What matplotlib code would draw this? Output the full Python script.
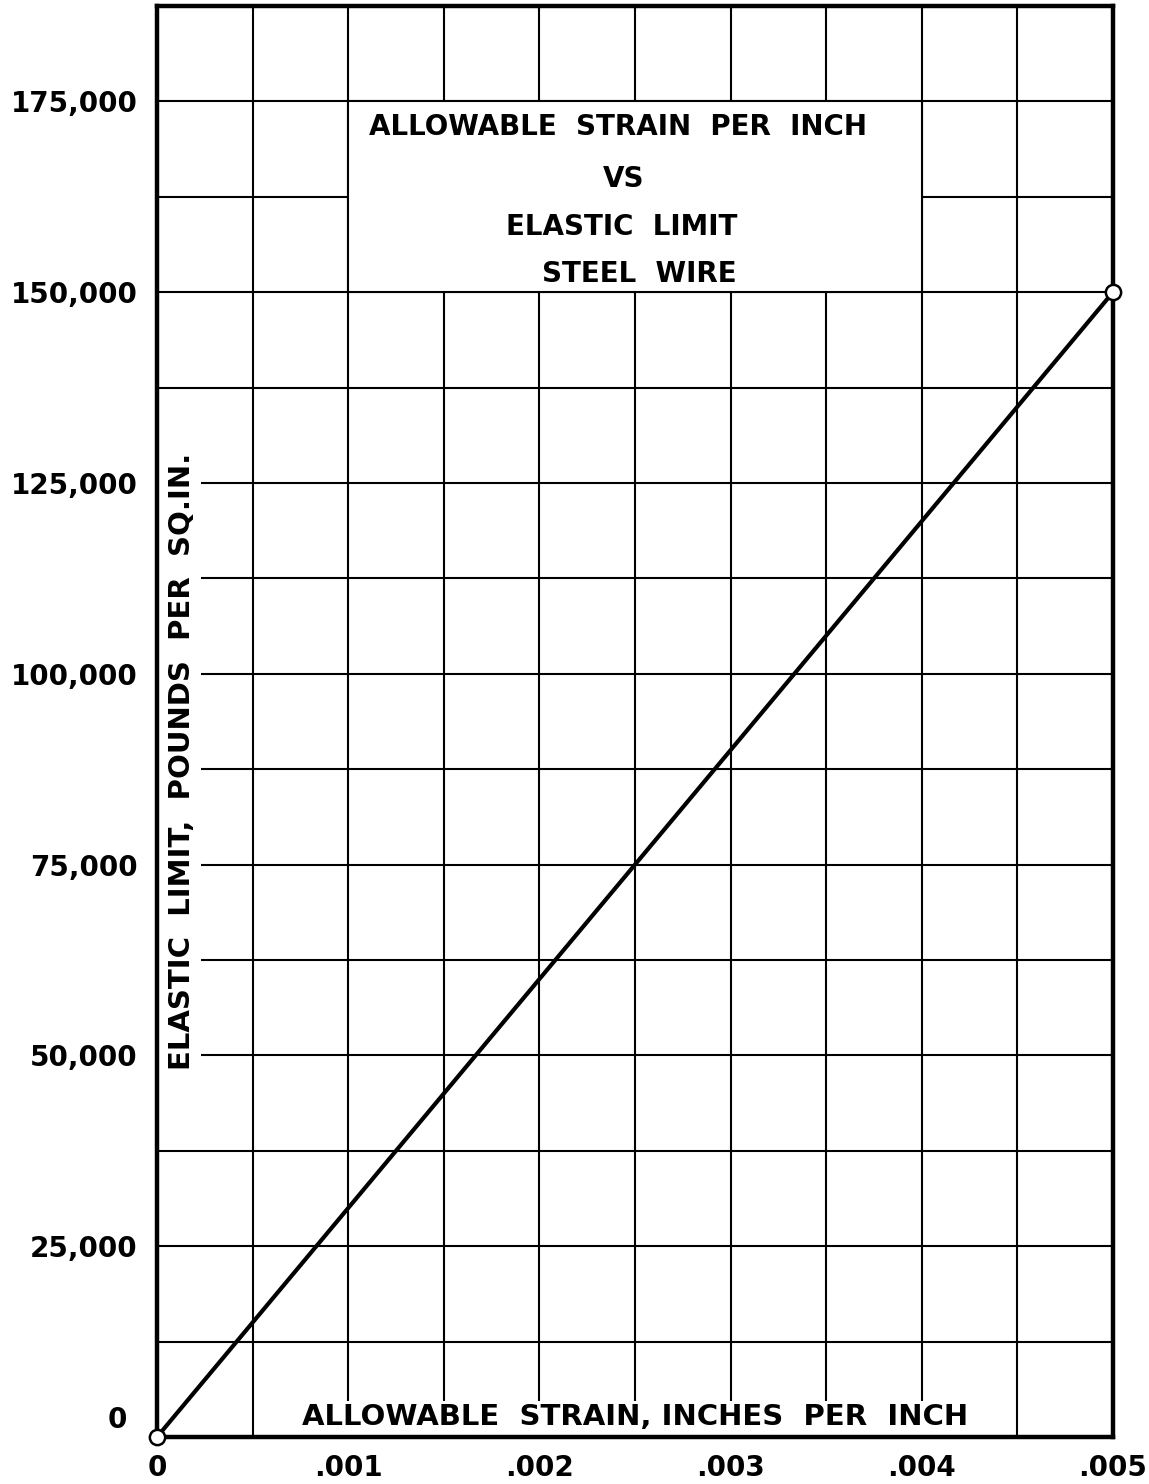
import matplotlib.pyplot as plt
from matplotlib.patches import Rectangle
from matplotlib.transforms import blended_transform_factory, ScaledTranslation

plt.rcParams['font.family'] = ['DejaVu Sans']
plt.rcParams['font.weight'] = 'bold'

# strain (in/in) vs elastic limit (psi) for steel wire
strain = [0.0, 0.005]
elastic_limit = [0, 150000]

x_grid = [0, 0.0005, 0.001, 0.0015, 0.002, 0.0025, 0.003, 0.0035, 0.004, 0.0045, 0.005]
x_labels = ['0', '', '.001', '', '.002', '', '.003', '', '.004', '', '.005']
y_grid = [0, 12500, 25000, 37500, 50000, 62500, 75000, 87500, 100000,
          112500, 125000, 137500, 150000, 162500, 175000]
y_labels = ['0', '', '25,000', '', '50,000', '', '75,000', '', '100,000',
            '', '125,000', '', '150,000', '', '175,000']

title_lines = ['ALLOWABLE  STRAIN  PER  INCH', 'VS', 'ELASTIC  LIMIT', 'STEEL  WIRE']

W, H = 1149, 1484
fig = plt.figure(figsize=(W / 100, H / 100), dpi=100)
ax = fig.add_axes([157 / W, 1 - 1437 / H, (1113 - 157) / W, (1437 - 6) / H])

ax.set_xlim(0, 0.005)
ax.set_ylim(0, 187500)

ax.set_xticks(x_grid)
ax.set_xticklabels(x_labels, fontsize=20)
ax.set_yticks(y_grid)
# the zero on the y scale sits a little higher, drawn separately below
ax.set_yticklabels([''] + y_labels[1:], fontsize=20)
ax.tick_params(length=0)
ax.tick_params(axis='x', pad=12)
ax.tick_params(axis='y', pad=14)

ax.set_axisbelow(True)
ax.grid(True, color='black', linewidth=1.5)
for s in ax.spines.values():
    s.set_linewidth(3.2)
    s.set_zorder(2.6)

blend = blended_transform_factory(ax.transAxes, ax.transData)
ax.text(-30 / 956, y_grid[0], y_labels[0], ha='right', va='center', fontsize=20,
        transform=blend + ScaledTranslation(0, 0.17, fig.dpi_scale_trans))

# white panels that blank the grid behind the lettering
ax.add_patch(Rectangle((0.001, 150000), 0.003, 25000, facecolor='white',
                       edgecolor='black', linewidth=1.5, zorder=1))
ax.add_patch(Rectangle((0.00051, 0), 0.00398, 4700, facecolor='white',
                       edgecolor='none', zorder=1))
ax.add_patch(Rectangle((0.00001, 46000), 0.00022, 87000, facecolor='white',
                       edgecolor='none', zorder=1))

ax.plot(strain, elastic_limit, color='black', linewidth=3.0, marker='o',
        markersize=11, markerfacecolor='white', markeredgecolor='black',
        markeredgewidth=1.8, clip_on=False, zorder=3)

# title block
title_x = [0.00241, 0.00244, 0.00243, 0.00252]
title_y = [171600, 164800, 158500, 152400]
for txt, tx, ty in zip(title_lines, title_x, title_y):
    ax.text(tx, ty, txt, ha='center', va='center', fontsize=20)

ax.text(0.0025, 2600, 'ALLOWABLE  STRAIN, INCHES  PER  INCH', ha='center',
        va='center', fontsize=21)
ax.text(0.00013, 88500, 'ELASTIC  LIMIT,  POUNDS  PER  SQ.IN.', ha='center',
        va='center', rotation=90, fontsize=21)

fig.savefig('out.png', dpi=100, facecolor='white')
